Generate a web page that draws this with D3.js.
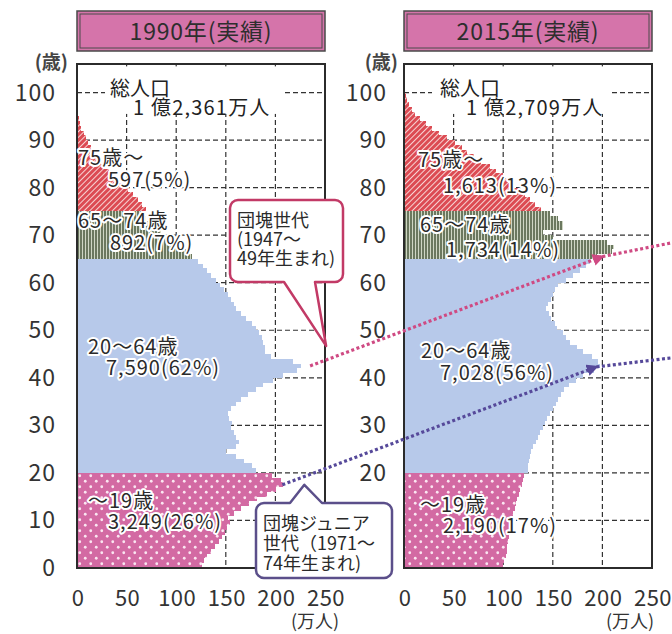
<!DOCTYPE html>
<html>
<head>
<meta charset="utf-8">
<script src="https://cdn.jsdelivr.net/npm/d3@7"></script>
<style>
  body { margin: 0; background: #fff; }
  svg { display: block; font-family: "Noto Sans CJK JP", "Noto Sans", sans-serif; }
  .halo { paint-order: stroke; stroke: #fff; stroke-width: 4px; stroke-linejoin: round; }
</style>
</head>
<body>
<svg id="chart"></svg>
<script>
// ---- data (万人, index = age) ----
var ages = d3.range(0, 101);

var pop1990 = [
  126,128,131,135,139,143,146,149,151,154,152,158,165,173,181,192,201,208,206,197,
  180,176,168,160,150,160,163,160,158,155,156,153,152,155,160,165,172,180,188,198,
  208,222,226,218,196,190,190,188,186,183,180,176,170,165,160,158,155,152,148,144,
  140,135,131,127,122,
  116,110,103,96,90,85,80,75,70,67,
  70,66,61,56,51,46,41,36,32,28,24,20,17,14,11,9,7,4,3,2,1,0,0,0,0,0
];

var pop2015 = [
  100,101,103,104,104,105,106,106,107,108,110,110,112,113,114,116,117,119,120,121,
  125,125,126,127,128,130,133,135,137,140,142,144,147,150,153,155,158,161,166,173,
  180,192,198,196,190,180,174,167,163,160,154,152,148,146,143,145,148,150,152,155,
  163,170,177,183,188,
  195,210,212,205,150,140,160,160,155,147,
  138,132,127,122,115,110,105,100,93,87,78,71,64,58,51,43,35,28,22,16,11,8,5,3,2,1
];

var groupStarts = [0, 20, 65, 75];   // ～19, 20～64, 65～74, 75～
var yearTitles = ["1990年(実績)", "2015年(実績)"];
var totals = ["1 億2,361万人", "1 億2,709万人"];
var labels1990 = [["～19歳", "3,249(26%)"], ["20～64歳", "7,590(62%)"], ["65～74歳", "892(7%)"], ["75歳～", "597(5%)"]];
var labels2015 = [["～19歳", "2,190(17%)"], ["20～64歳", "7,028(56%)"], ["65～74歳", "1,734(14%)"], ["75歳～", "1,613(13%)"]];
var yTicks = [0,10,20,30,40,50,60,70,80,90,100];
var xTicks = [0,50,100,150,200,250];

// annotation anchors: [panel, age, value]
var boomers = [[0, 42.5, 235], [1, 65.5, 200], [1, 68.4, 270]];
var juniors = [[0, 17.5, 207], [1, 42.3, 194], [1, 44.2, 270]];

// ---- layout ----
var W = 672, H = 634;
var svg = d3.select("#chart").attr("width", W).attr("height", H);

var y = d3.scaleLinear().domain([0, 106]).range([568, 64]);

// callout boxes [x0, y0, x1, y1]
var box1 = [230, 200, 343, 282];
var box2 = [256, 503, 392, 578];

var panels = [
  { pop: pop1990, title: yearTitles[0], total: totals[0], labels: labels1990,
    x: d3.scaleLinear().domain([0, 250]).range([77, 325]),
    tickX: 56, unitX: 315, ageX: 68, totalX: [110, 133], cover: [105, 285],
    labelPos: [[[88,508],[108,529]], [[88,354],[106,375]], [[78,228],[110,250]], [[78,165],[108,187]]] },
  { pop: pop2015, title: yearTitles[1], total: totals[1], labels: labels2015,
    x: d3.scaleLinear().domain([0, 250]).range([404, 652]),
    tickX: 387, unitX: 630, ageX: 398, totalX: [440, 466], cover: [432, 612],
    labelPos: [[[420,512],[443,533]], [[421,358],[440,380]], [[420,232],[446,257]], [[418,167],[443,193]]] }
];

var fills = ["url(#dots)", "#b7c9ea", "url(#vstripe)", "url(#hatch)"];

function groupOf(age) {
  var g = 0;
  groupStarts.forEach(function(s, i) { if (age >= s) g = i; });
  return g;
}

// ---- patterns ----
var defs = svg.append("defs");

var hatch = defs.append("pattern").attr("id", "hatch")
  .attr("patternUnits", "userSpaceOnUse").attr("width", 4).attr("height", 4)
  .attr("patternTransform", "rotate(45)");
hatch.append("rect").attr("width", 4).attr("height", 4).attr("fill", "#dc4b53");
hatch.append("line").attr("x1", 0.5).attr("x2", 0.5).attr("y1", 0).attr("y2", 4)
  .attr("stroke", "#f7d4d4").attr("stroke-width", 1);

var vstripe = defs.append("pattern").attr("id", "vstripe")
  .attr("patternUnits", "userSpaceOnUse").attr("width", 3).attr("height", 10);
vstripe.append("rect").attr("width", 3).attr("height", 10).attr("fill", "#66735a");
vstripe.append("line").attr("x1", 1.5).attr("x2", 1.5).attr("y1", 0).attr("y2", 10)
  .attr("stroke", "#cfd6c4").attr("stroke-width", 1.1);

var dots = defs.append("pattern").attr("id", "dots")
  .attr("patternUnits", "userSpaceOnUse").attr("width", 11).attr("height", 11);
dots.append("rect").attr("width", 11).attr("height", 11).attr("fill", "#d36aa3");
dots.selectAll("circle").data([[2.75, 2.75], [8.25, 8.25]]).enter().append("circle")
  .attr("cx", function(d) { return d[0]; }).attr("cy", function(d) { return d[1]; })
  .attr("r", 1.4).attr("fill", "#fbe6f1");

function marker(id, color) {
  defs.append("marker").attr("id", id)
    .attr("viewBox", "0 0 10 10").attr("refX", 8).attr("refY", 5)
    .attr("markerUnits", "userSpaceOnUse").attr("markerWidth", 12).attr("markerHeight", 12)
    .attr("orient", "auto")
    .append("path").attr("d", "M0,0 L10,5 L0,10 z").attr("fill", color);
}
marker("arrPink", "#cf4a83");
marker("arrPurple", "#56499a");

// ---- panels ----
panels.forEach(function(p) {
  var g = svg.append("g");
  var x = p.x;
  var x0 = x(0), x1 = x(250);

  // title box
  g.append("rect").attr("x", x0).attr("y", 11).attr("width", x1 - x0).attr("height", 40)
    .attr("fill", "#d574aa").attr("stroke", "#4a4a4a").attr("stroke-width", 1.5);
  g.append("rect").attr("x", x0 + 3).attr("y", 14).attr("width", x1 - x0 - 6).attr("height", 34)
    .attr("fill", "none").attr("stroke", "#4a4a4a").attr("stroke-width", 1);
  g.append("text").attr("x", (x0 + x1) / 2).attr("y", 40).attr("text-anchor", "middle")
    .attr("font-size", 23).attr("letter-spacing", 0.8).attr("fill", "#2e2e2e").text(p.title);

  // grid
  g.selectAll(".hg").data(yTicks.slice(1)).enter().append("line")
    .attr("x1", x0).attr("x2", x1).attr("y1", function(d) { return y(d); }).attr("y2", function(d) { return y(d); })
    .attr("stroke", "#333").attr("stroke-width", 1.2).attr("stroke-dasharray", "5 3");
  g.selectAll(".vg").data(xTicks.slice(1, 5)).enter().append("line")
    .attr("y1", y(106)).attr("y2", y(0)).attr("x1", function(d) { return x(d); }).attr("x2", function(d) { return x(d); })
    .attr("stroke", "#333").attr("stroke-width", 1.2).attr("stroke-dasharray", "5 3");

  // white area behind the total
  g.append("rect").attr("x", p.cover[0]).attr("y", y(105.5)).attr("width", p.cover[1] - p.cover[0])
    .attr("height", y(95.5) - y(105.5)).attr("fill", "#fff");
  var tt = g.append("text").attr("font-size", 20).attr("fill", "#222");
  tt.append("tspan").attr("x", p.totalX[0]).attr("y", 96).text("総人口");
  tt.append("tspan").attr("x", p.totalX[1]).attr("y", 115).attr("letter-spacing", 1.2).text(p.total);

  // bars
  g.append("g").attr("shape-rendering", "crispEdges")
    .selectAll("rect").data(ages.filter(function(a) { return p.pop[a] > 0; })).enter().append("rect")
    .attr("x", x0)
    .attr("y", function(a) { return y(a + 1); })
    .attr("width", function(a) { return x(p.pop[a]) - x0; })
    .attr("height", function(a) { return y(a) - y(a + 1); })
    .attr("fill", function(a) { return fills[groupOf(a)]; });

  // frame
  g.append("rect").attr("x", x0).attr("y", y(106)).attr("width", x1 - x0).attr("height", y(0) - y(106))
    .attr("fill", "none").attr("stroke", "#2b2b2b").attr("stroke-width", 2);

  // axes labels (the ones hidden under a callout are left out)
  var shownY = yTicks.filter(function(d) {
    var ty = y(d);
    return !(p.tickX > box2[0] && p.tickX - 30 < box2[2] && ty > box2[1] - 10 && ty < box2[3] + 10);
  });
  g.selectAll(".yt").data(shownY).enter().append("text")
    .attr("x", p.tickX).attr("y", function(d) { return y(d) + 8; })
    .attr("text-anchor", "end").attr("font-size", 23).attr("letter-spacing", 1).attr("fill", "#333")
    .text(function(d) { return d; });
  g.selectAll(".xt").data(xTicks).enter().append("text")
    .attr("x", function(d) { return x(d) + 1; }).attr("y", 606)
    .attr("text-anchor", "middle").attr("font-size", 22).attr("letter-spacing", 0.5).attr("fill", "#333")
    .text(function(d) { return d; });
  g.append("text").attr("x", p.ageX).attr("y", 69).attr("text-anchor", "end")
    .attr("font-size", 19).attr("font-weight", "bold").attr("fill", "#444").text("(歳)");
  g.append("text").attr("x", p.unitX).attr("y", 628).attr("text-anchor", "middle")
    .attr("font-size", 18).attr("fill", "#333").text("(万人)");

  // group labels
  p.labels.forEach(function(lb, i) {
    var t = g.append("text").attr("class", "halo")
      .attr("font-size", 20).attr("letter-spacing", 1).attr("fill", "#2a2a2a");
    lb.forEach(function(s, j) {
      t.append("tspan").attr("x", p.labelPos[i][j][0]).attr("y", p.labelPos[i][j][1]).text(s);
    });
  });
});

// ---- annotation lines ----
function pt(a) { return [panels[a[0]].x(a[2]), y(a[1])]; }

function arrowLine(anchors, color, mk) {
  svg.append("line")
    .attr("x1", pt(anchors[0])[0]).attr("y1", pt(anchors[0])[1])
    .attr("x2", pt(anchors[1])[0]).attr("y2", pt(anchors[1])[1])
    .attr("stroke", color).attr("stroke-width", 3.2).attr("stroke-dasharray", "3 2.5")
    .attr("marker-end", "url(#" + mk + ")");
  svg.append("line")
    .attr("x1", pt(anchors[1])[0]).attr("y1", pt(anchors[1])[1])
    .attr("x2", pt(anchors[2])[0]).attr("y2", pt(anchors[2])[1])
    .attr("stroke", color).attr("stroke-width", 3.2).attr("stroke-dasharray", "3 2.5");
}
arrowLine(boomers, "#cf4a83", "arrPink");
arrowLine(juniors, "#56499a", "arrPurple");

// ---- callouts ----
function callout(box, tail, color, lines, step) {
  var x0 = box[0], y0 = box[1], x1 = box[2], y1 = box[3], r = 8;
  var path = d3.path();
  path.moveTo(x0 + r, y0);
  if (tail.side === "top") { path.lineTo(tail.a, y0); path.lineTo(tail.tip[0], tail.tip[1]); path.lineTo(tail.b, y0); }
  path.lineTo(x1 - r, y0);
  path.arcTo(x1, y0, x1, y0 + r, r);
  path.lineTo(x1, y1 - r);
  path.arcTo(x1, y1, x1 - r, y1, r);
  if (tail.side === "bottom") { path.lineTo(tail.b, y1); path.lineTo(tail.tip[0], tail.tip[1]); path.lineTo(tail.a, y1); }
  path.lineTo(x0 + r, y1);
  path.arcTo(x0, y1, x0, y1 - r, r);
  path.lineTo(x0, y0 + r);
  path.arcTo(x0, y0, x0 + r, y0, r);
  path.closePath();
  svg.append("path").attr("d", path.toString())
    .attr("fill", "#fff").attr("stroke", color).attr("stroke-width", 2.5).attr("stroke-linejoin", "round");
  var t = svg.append("text").attr("font-size", 18).attr("fill", "#2a2a2a");
  lines.forEach(function(s, i) {
    t.append("tspan").attr("x", x0 + 7).attr("y", y0 + 27 + i * step).text(s);
  });
}
callout(box1, { side: "bottom", a: 284, b: 315, tip: pt(boomers[0]).map(function(v, i) { return i ? v - 20 : v + 16; }) },
  "#c23a66", ["団塊世代", "(1947～", "49年生まれ)"], 19);
callout(box2, { side: "top", a: 290, b: 322, tip: [pt(juniors[0])[0] + 22, pt(juniors[0])[1]] },
  "#5b4f8a", ["団塊ジュニア", "世代（1971～", "74年生まれ)"], 20);
</script>
</body>
</html>
